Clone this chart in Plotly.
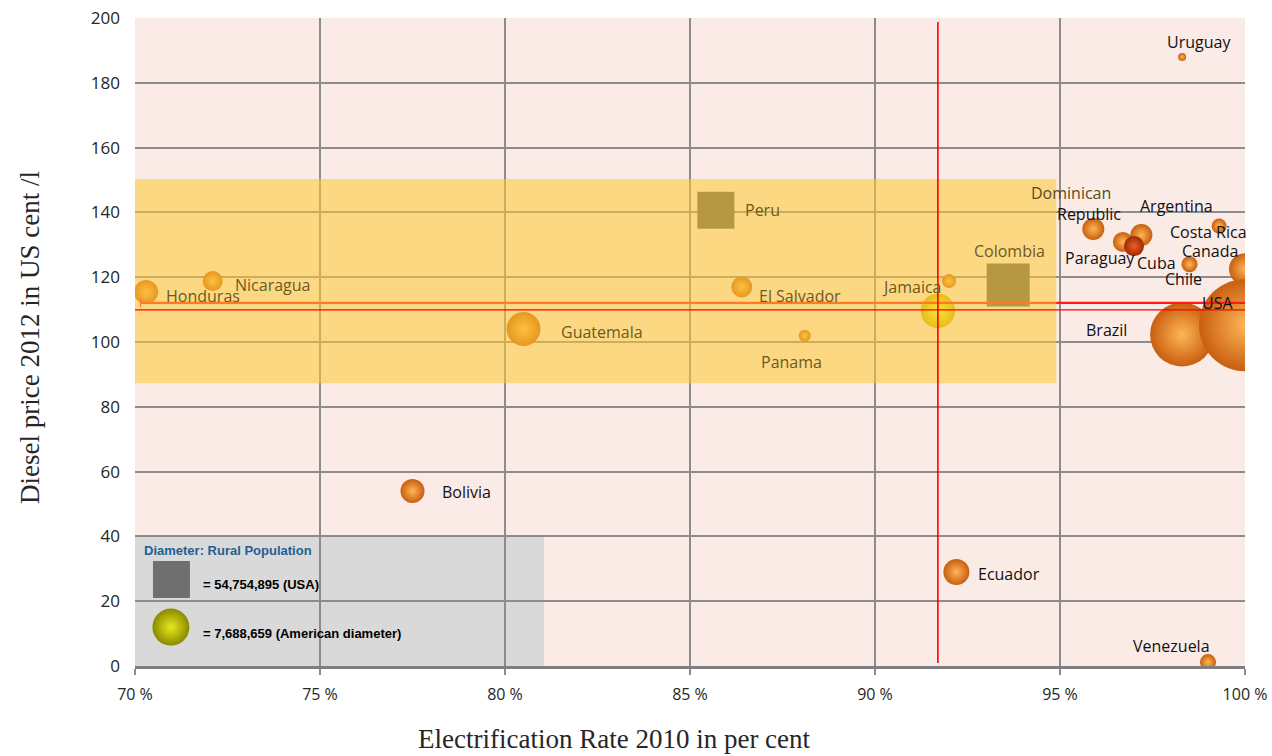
import plotly.graph_objects as go

# ---------------- data ----------------
countries = ["Brazil", "Canada", "USA", "Guatemala", "Ecuador", "Honduras", "Bolivia",
             "Nicaragua", "El Salvador", "Dominican Republic", "Paraguay", "Argentina",
             "Cuba", "Costa Rica", "Chile", "Jamaica", "Panama", "Venezuela", "Uruguay"]
elec_rate = [98.3, 100.0, 100.0, 80.5, 92.2, 70.3, 77.5,
             72.1, 86.4, 95.9, 96.7, 97.2,
             97.0, 99.3, 98.5, 92.0, 88.1, 99.0, 98.3]
diesel_price = [102.3, 122.5, 105.2, 104.0, 29.0, 115.4, 54.0,
                118.8, 117.0, 134.9, 130.9, 133.0,
                129.6, 135.8, 124.0, 118.8, 101.9, 1.2, 188.0]
rural_pop_m = [26.5, 6.6, 54.75, 7.48, 4.37, 3.73, 3.73,
               2.59, 2.85, 3.13, 2.59, 3.13,
               2.59, 1.46, 1.66, 1.27, 0.93, 1.66, 0.41]

square_countries = ["Peru", "Colombia"]
square_rate = [85.7, 93.6]
square_price = [140.7, 117.6]
square_pop_m = [8.86, 11.96]

avg_rate = 91.7
avg_price = 109.6
avg_pop_m = 7.688659

band_price = 112.1
band_x = [70.15, 100.05]
zone_x = [70.0, 94.9]
zone_y = [87.3, 150.3]
vline_y = [0.9, 198.8]

x_ticks = [70, 75, 80, 85, 90, 95, 100]
y_ticks = [0, 20, 40, 60, 80, 100, 120, 140, 160, 180, 200]

# ---------------- styles ----------------
# plotly area mode: diameter = 2*sqrt(v/2/sizeref); choose sizeref so USA -> 92 px
SIZEREF = 2 * 54.75 / 92 ** 2
LABEL_FONT = "Open Sans"
INSIDE_COL = "#6b5a22"
OUTSIDE_COL = "#111111"

# label offsets in px: list of (text, dx, dy, color)
label_style = {
    "Honduras": [("Honduras", 18, -4, INSIDE_COL)],
    "Nicaragua": [("Nicaragua", 20, -4, INSIDE_COL)],
    "Guatemala": [("Guatemala", 35, -3, INSIDE_COL)],
    "Bolivia": [("Bolivia", 27, -1, OUTSIDE_COL)],
    "El Salvador": [("El Salvador", 15, -9, INSIDE_COL)],
    "Panama": [("Panama", -46, -26, INSIDE_COL)],
    "Jamaica": [("Jamaica", -69, -6, INSIDE_COL)],
    "Ecuador": [("Ecuador", 20, -2, OUTSIDE_COL)],
    "Dominican Republic": [("Dominican", -64, 36, "#5a4a1e"), ("Republic", -38, 15, OUTSIDE_COL)],
    "Argentina": [("Argentina", -3, 29, OUTSIDE_COL)],
    "Costa Rica": [("Costa Rica", -51, -6, OUTSIDE_COL)],
    "Canada": [("Canada", -65, 18, OUTSIDE_COL)],
    "Paraguay": [("Paraguay", -60, -16, OUTSIDE_COL)],
    "Cuba": [("Cuba", 1, -17, OUTSIDE_COL)],
    "Chile": [("Chile", -27, -15, OUTSIDE_COL)],
    "USA": [("USA", -45, 22, OUTSIDE_COL)],
    "Brazil": [("Brazil", -98, 5, OUTSIDE_COL)],
    "Venezuela": [("Venezuela", -77, 16, OUTSIDE_COL)],
    "Uruguay": [("Uruguay", -17, 15, OUTSIDE_COL)],
    "Peru": [("Peru", 27, 0, INSIDE_COL)],
    "Colombia": [("Colombia", -36, 34, INSIDE_COL)],
}

outer_cols = ["#c85e10" if c != "Cuba" else "#a02808" for c in countries]
inner_cols = ["#ffb656" if c != "Cuba" else "#e86020" for c in countries]

fig = go.Figure()

fig.add_trace(go.Scatter(
    x=elec_rate, y=diesel_price, mode="markers", text=countries,
    marker=dict(size=rural_pop_m, sizemode="area", sizeref=SIZEREF, opacity=1,
                color=outer_cols, line=dict(width=0),
                gradient=dict(type="radial", color=inner_cols)),
    showlegend=False, hoverinfo="text"))

fig.add_trace(go.Scatter(
    x=square_rate, y=square_price, mode="markers", text=square_countries,
    marker=dict(size=square_pop_m, sizemode="area", sizeref=SIZEREF, symbol="square", opacity=1,
                color="#5c5c5c", line=dict(width=0)),
    showlegend=False, hoverinfo="text"))

fig.add_trace(go.Scatter(
    x=[avg_rate], y=[avg_price], mode="markers",
    marker=dict(size=[avg_pop_m], sizemode="area", sizeref=SIZEREF, opacity=1,
                color="#c8b000", line=dict(width=0),
                gradient=dict(type="radial", color="#ffff30")),
    showlegend=False, hoverinfo="skip"))

# legend sphere glyph (placed in plot coordinates inside legend box)
fig.add_trace(go.Scatter(
    x=[70.97], y=[12.0], mode="markers",
    marker=dict(size=37, color="#8a8a00", line=dict(width=0), opacity=1,
                gradient=dict(type="radial", color="#e8e820")),
    showlegend=False, hoverinfo="skip"))

shapes = []
# legend box (above gridlines, below traces)
shapes.append(dict(type="rect", xref="paper", yref="paper", x0=0, x1=0.3685, y0=0, y1=0.2022,
                   fillcolor="#d9d9d9", line=dict(width=0), layer="between"))
shapes.append(dict(type="rect", xref="paper", yref="paper", x0=0.0162, x1=0.0495, y0=0.1049, y1=0.1620,
                   fillcolor="#6f6f6f", line=dict(width=0), layer="between"))
# thick band line with caps (below the zone overlay)
shapes.append(dict(type="line", xref="x", yref="y", x0=band_x[0], x1=band_x[1], y0=band_price, y1=band_price,
                   line=dict(color="#ff1a1a", width=2.2), layer="above"))
for bx in band_x:
    shapes.append(dict(type="line", xref="x", yref="y", x0=bx, x1=bx, y0=band_price - 1.3, y1=band_price + 1.3,
                       line=dict(color="#ff1a1a", width=1.2), layer="above"))
# yellow zone overlay
shapes.append(dict(type="rect", xref="x", yref="y", x0=zone_x[0], x1=zone_x[1], y0=zone_y[0], y1=zone_y[1],
                   fillcolor="#ffc832", opacity=0.55, line=dict(width=0), layer="above"))
# average lines
shapes.append(dict(type="line", xref="x", yref="y", x0=70, x1=100, y0=avg_price + 0.3, y1=avg_price + 0.3,
                   line=dict(color="#ff0000", width=1.2), layer="above"))
shapes.append(dict(type="line", xref="x", yref="y", x0=avg_rate, x1=avg_rate, y0=vline_y[0], y1=vline_y[1],
                   line=dict(color="#ff0000", width=1.6), layer="above"))

annotations = []
idx = {c: i for i, c in enumerate(countries)}
for c, lines in label_style.items():
    if c in idx:
        px, py = elec_rate[idx[c]], diesel_price[idx[c]]
    else:
        j = square_countries.index(c)
        px, py = square_rate[j], square_price[j]
    for (t, dx, dy, col) in lines:
        annotations.append(dict(x=px, y=py, xref="x", yref="y", text=t, showarrow=False,
                                xanchor="left", yanchor="middle", xshift=dx, yshift=dy,
                                font=dict(family=LABEL_FONT, size=16, color=col)))

# legend texts
annotations.append(dict(x=0.0063, y=0.179, xref="paper", yref="paper", text="<b>Diameter: Rural Population</b>",
                        showarrow=False, xanchor="left", yanchor="middle",
                        font=dict(family="Liberation Sans", size=13, color="#1f5f94")))
annotations.append(dict(x=0.0595, y=0.1265, xref="paper", yref="paper", text="<b>= 54,754,895 (USA)</b>",
                        showarrow=False, xanchor="left", yanchor="middle",
                        font=dict(family="Liberation Sans", size=13, color="#000000")))
annotations.append(dict(x=0.0595, y=0.0494, xref="paper", yref="paper", text="<b>= 7,688,659 (American diameter)</b>",
                        showarrow=False, xanchor="left", yanchor="middle",
                        font=dict(family="Liberation Sans", size=13, color="#000000")))
# axis titles
annotations.append(dict(x=0.4324, y=-0.1127, xref="paper", yref="paper", text="Electrification Rate 2010 in per cent",
                        showarrow=False, xanchor="center", yanchor="middle",
                        font=dict(family="Liberation Serif", size=27, color="#262626")))
annotations.append(dict(x=-0.0946, y=0.5077, xref="paper", yref="paper", text="Diesel price 2012 in US cent /l",
                        showarrow=False, xanchor="center", yanchor="middle", textangle=-90,
                        font=dict(family="Liberation Serif", size=27, color="#262626")))

fig.update_layout(
    width=1272, height=756, autosize=False,
    margin=dict(l=135, r=27, t=18, b=90),
    paper_bgcolor="white", plot_bgcolor="#fbebe7",
    shapes=shapes, annotations=annotations, showlegend=False,
    xaxis=dict(range=[70, 100], tickvals=x_ticks, ticktext=[f"{v} %" for v in x_ticks],
               automargin=False, ticklabeloverflow="allow",
               showgrid=True, gridcolor="#8c8c8c", gridwidth=1.5, zeroline=False,
               showline=True, linecolor="#7f7f7f", linewidth=3,
               ticks="outside", ticklen=6, tickcolor="#8c8c8c", tickwidth=1.5,
               ticklabelstandoff=6,
               tickfont=dict(family="Open Sans", size=16, color="#262626")),
    yaxis=dict(range=[0, 200], tickvals=y_ticks,
               automargin=False, ticklabeloverflow="allow",
               showgrid=True, gridcolor="#8c8c8c", gridwidth=1.5, zeroline=False,
               showline=False, ticks="", ticklabelstandoff=14,
               tickfont=dict(family="Open Sans", size=17, color="#262626")),
)

fig.write_html("out.html",
               config={"responsive": False, "displayModeBar": False},
               post_script="document.body.style.margin='0px';document.body.style.overflow='hidden';")
